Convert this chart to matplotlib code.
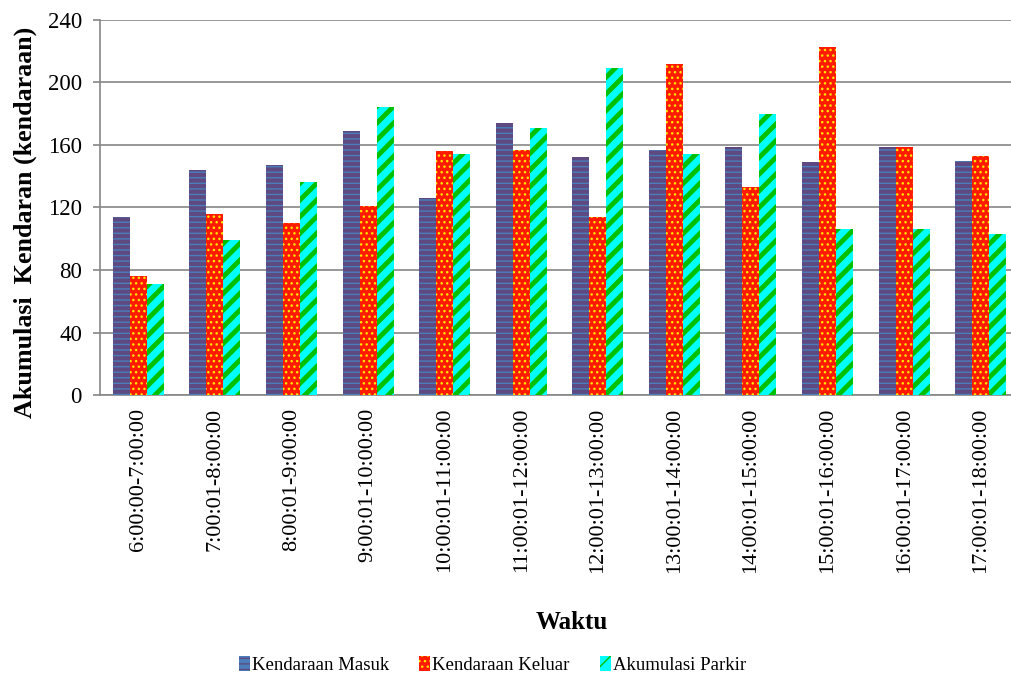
import numpy as np
import matplotlib
matplotlib.use("Agg")
import matplotlib.pyplot as plt

# Data
waktu = ["6:00:00-7:00:00", "7:00:01-8:00:00", "8:00:01-9:00:00", "9:00:01-10:00:00",
         "10:00:01-11:00:00", "11:00:01-12:00:00", "12:00:01-13:00:00", "13:00:01-14:00:00",
         "14:00:01-15:00:00", "15:00:01-16:00:00", "16:00:01-17:00:00", "17:00:01-18:00:00"]
masuk = [114, 144, 147, 169, 126, 174, 152, 157, 159, 149, 159, 150]
keluar = [76, 116, 110, 121, 156, 157, 114, 212, 133, 223, 159, 153]
akumulasi = [71, 99, 136, 184, 154, 171, 209, 154, 180, 106, 106, 103]
y_ticks = [0, 40, 80, 120, 160, 200, 240]

plt.rcParams["font.family"] = ["Liberation Serif", "DejaVu Serif"]

fig = plt.figure(figsize=(10.11, 6.75), dpi=100)
# plot area runs a little past the right edge of the picture, as in the original
ax = fig.add_axes([0.0989, 0.4148, 0.909, 0.5556])

x = np.arange(len(waktu))
w = 0.222

# (values, face, hatch, hatch colour, hatch linewidth, label)
series = [
    (masuk, "#4a7ebb", "---", "#5e4a80", 3.0, "Kendaraan Masuk"),
    (keluar, "#ff1a00", "...", "#ffe600", 1.0, "Kendaraan Keluar"),
    (akumulasi, "#00ffff", "//", "#00c000", 3.5, "Akumulasi Parkir"),
]

handles = []
for i, (vals, face, hatch, hcol, hlw, label) in enumerate(series):
    with plt.rc_context({"hatch.linewidth": hlw}):
        bars = ax.bar(x + (i - 1) * w, vals, width=w, color=face, edgecolor=hcol,
                      hatch=hatch, linewidth=0, label=label, zorder=3)
    for b in bars:
        if hasattr(b, "set_hatch_linewidth"):
            b.set_hatch_linewidth(hlw)
    handles.append(bars)

ax.set_xlim(-0.5, len(waktu) - 0.5)
ax.set_ylim(0, 240)
ax.set_yticks(y_ticks)
ax.set_xticks(x)
ax.set_xticklabels(waktu, rotation=90, fontsize=16)
ax.tick_params(axis="y", labelsize=16.5, length=5, width=1.2, color="#868686", pad=8)
ax.tick_params(axis="x", length=0, pad=9)

ax.grid(axis="y", color="#868686", linewidth=1.2, zorder=0)
for s in ["top", "right"]:
    ax.spines[s].set_visible(False)
for s in ["left", "bottom"]:
    ax.spines[s].set_color("#868686")
    ax.spines[s].set_linewidth(1.2)

ax.set_ylabel("Akumulasi  Kendaran (kendaraan)", fontsize=18.7, fontweight="bold")
ax.yaxis.set_label_coords(-0.068, 0.46)
fig.text(0.566, 0.0785, "Waktu", ha="center", va="center", fontsize=18, fontweight="bold")

fig.legend(handles=handles, loc="center", bbox_to_anchor=(0.487, 0.015), ncol=3, frameon=False,
           fontsize=13.5, handlelength=0.6, handleheight=0.9, handletextpad=0.1, columnspacing=1.6)

fig.savefig("out.png", dpi=100)
